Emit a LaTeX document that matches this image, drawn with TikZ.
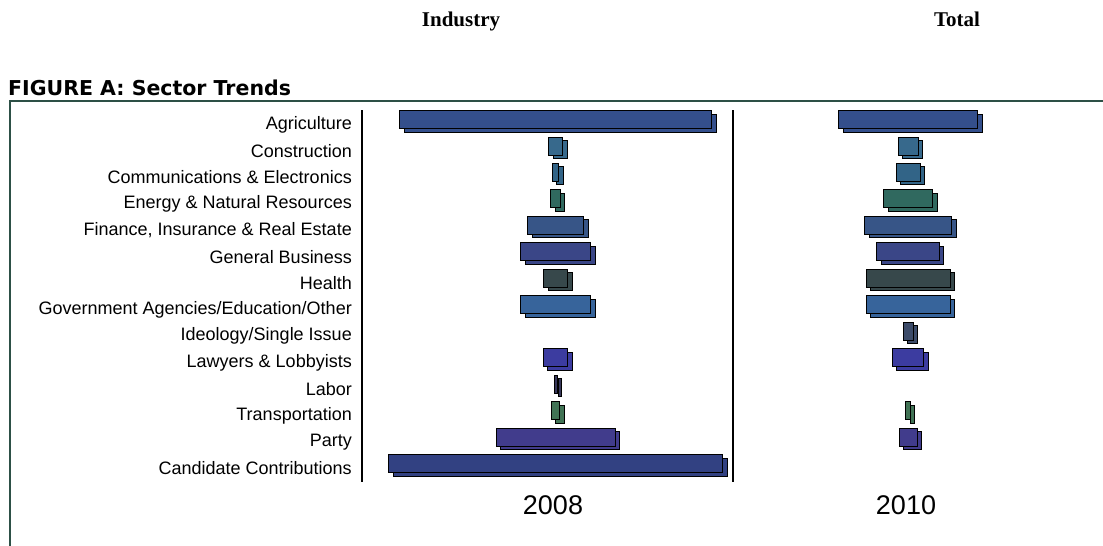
\documentclass[tikz,border=0pt]{standalone}
\usepackage{fontspec}
\usepackage{xcolor}
\usepackage{tikz}
\usetikzlibrary{shadows}

\newfontfamily\sectorfont{Liberation Sans}
\newfontfamily\figfont{DejaVu Sans}
\newfontfamily\headfont{Liberation Serif}

\definecolor{framegreen}{RGB}{45,80,70}
\definecolor{agrcol}{RGB}{52,79,140}
\definecolor{concol}{RGB}{55,105,140}
\definecolor{comcol}{RGB}{50,100,135}
\definecolor{enecol}{RGB}{48,105,95}
\definecolor{fincol}{RGB}{55,85,135}
\definecolor{gencol}{RGB}{58,70,135}
\definecolor{heacol}{RGB}{55,72,75}
\definecolor{govcol}{RGB}{55,100,155}
\definecolor{idecol}{RGB}{60,75,105}
\definecolor{lawcol}{RGB}{60,60,160}
\definecolor{labcol}{RGB}{55,55,90}
\definecolor{tracol}{RGB}{65,115,85}
\definecolor{parcol}{RGB}{65,60,140}
\definecolor{cancol}{RGB}{50,65,130}

\begin{document}
\begin{tikzpicture}[
    x=1pt, y=-1pt,
    sector/.style={anchor=east, inner sep=0pt, font=\sectorfont\fontsize{18}{20}\selectfont},
    bar/.style={rectangle, draw=black, line width=0.9pt, inner sep=0pt, minimum height=18pt, copy shadow={shadow xshift=4.5pt, shadow yshift=-3.5pt}},
    year/.style={inner sep=0pt, font=\sectorfont\fontsize{27}{30}\selectfont},
    head/.style={anchor=base, inner sep=0pt, font=\headfont\bfseries\fontsize{21}{24}\selectfont},
    axis/.style={line width=1.3pt}
]
\useasboundingbox (0,0) rectangle (1103,546);

% Headings
\node[head] (industry) at (461,26) {Industry};
\node[head] (total) at (957,26) {Total};
\node[anchor=base west, inner sep=0pt, font=\figfont\bfseries\fontsize{20.5}{22}\selectfont] (figtitle) at (8,95.5) {FIGURE A: Sector Trends};
\draw[framegreen, line width=2pt] (10,560) -- (10,101) -- (1115,101);

% Sectors
\node[sector] (agr) at (352,124.5) {Agriculture};
\node[sector] (con) at (352,151.0) {Construction};
\node[sector] (com) at (352,177.4) {Communications \& Electronics};
\node[sector] (ene) at (352,203.9) {Energy \& Natural Resources};
\node[sector] (fin) at (352,230.3) {Finance, Insurance \& Real Estate};
\node[sector] (gen) at (352,256.8) {General Business};
\node[sector] (hea) at (352,283.3) {Health};
\node[sector] (gov) at (352,309.7) {Government Agencies/Education/Other};
\node[sector] (ide) at (352,336.2) {Ideology/Single Issue};
\node[sector] (law) at (352,362.6) {Lawyers \& Lobbyists};
\node[sector] (lab) at (352,389.1) {Labor};
\node[sector] (tra) at (352,415.6) {Transportation};
\node[sector] (par) at (352,442.0) {Party};
\node[sector] (can) at (352,468.5) {Candidate Contributions};

% Axes
\coordinate (axA-top) at (362,110);
\coordinate (axA-bot) at (362,482);
\coordinate (axB-top) at (733,110);
\coordinate (axB-bot) at (733,482);
\draw[axis] (axA-top) -- (axA-bot);
\draw[axis] (axB-top) -- (axB-bot);

% 2008
\node[bar, fill=agrcol, minimum width=312pt] (agr08) at (555.5,119.5) {};
\node[bar, fill=concol, minimum width=14pt] (con08) at (555.5,146.0) {};
\node[bar, fill=comcol, minimum width=6.5pt] (com08) at (555.5,172.4) {};
\node[bar, fill=enecol, minimum width=9.5pt] (ene08) at (555.5,198.9) {};
\node[bar, fill=fincol, minimum width=56pt] (fin08) at (555.5,225.3) {};
\node[bar, fill=gencol, minimum width=70pt] (gen08) at (555.5,251.8) {};
\node[bar, fill=heacol, minimum width=24pt] (hea08) at (555.5,278.3) {};
\node[bar, fill=govcol, minimum width=70pt] (gov08) at (555.5,304.7) {};
\node[bar, fill=lawcol, minimum width=24.5pt] (law08) at (555.5,357.6) {};
\node[bar, fill=labcol, minimum width=3pt] (lab08) at (555.5,384.1) {};
\node[bar, fill=tracol, minimum width=8.5pt] (tra08) at (555.5,410.6) {};
\node[bar, fill=parcol, minimum width=119pt] (par08) at (555.5,437.0) {};
\node[bar, fill=cancol, minimum width=334pt] (can08) at (555.5,463.5) {};

% 2010
\node[bar, fill=agrcol, minimum width=139pt] (agr10) at (908,119.5) {};
\node[bar, fill=concol, minimum width=20pt] (con10) at (908,146.0) {};
\node[bar, fill=comcol, minimum width=24pt] (com10) at (908,172.4) {};
\node[bar, fill=enecol, minimum width=49pt] (ene10) at (908,198.9) {};
\node[bar, fill=fincol, minimum width=87pt] (fin10) at (908,225.3) {};
\node[bar, fill=gencol, minimum width=62.5pt] (gen10) at (908,251.8) {};
\node[bar, fill=heacol, minimum width=84pt] (hea10) at (908,278.3) {};
\node[bar, fill=govcol, minimum width=84pt] (gov10) at (908,304.7) {};
\node[bar, fill=idecol, minimum width=10pt] (ide10) at (908,331.2) {};
\node[bar, fill=lawcol, minimum width=31.5pt] (law10) at (908,357.6) {};
\node[bar, fill=tracol, minimum width=4.5pt] (tra10) at (908,410.6) {};
\node[bar, fill=parcol, minimum width=18pt] (par10) at (908,437.0) {};

% Years
\node[year] (y2008) at (553,505) {2008};
\node[year] (y2010) at (906,505) {2010};

\end{tikzpicture}
\end{document}
